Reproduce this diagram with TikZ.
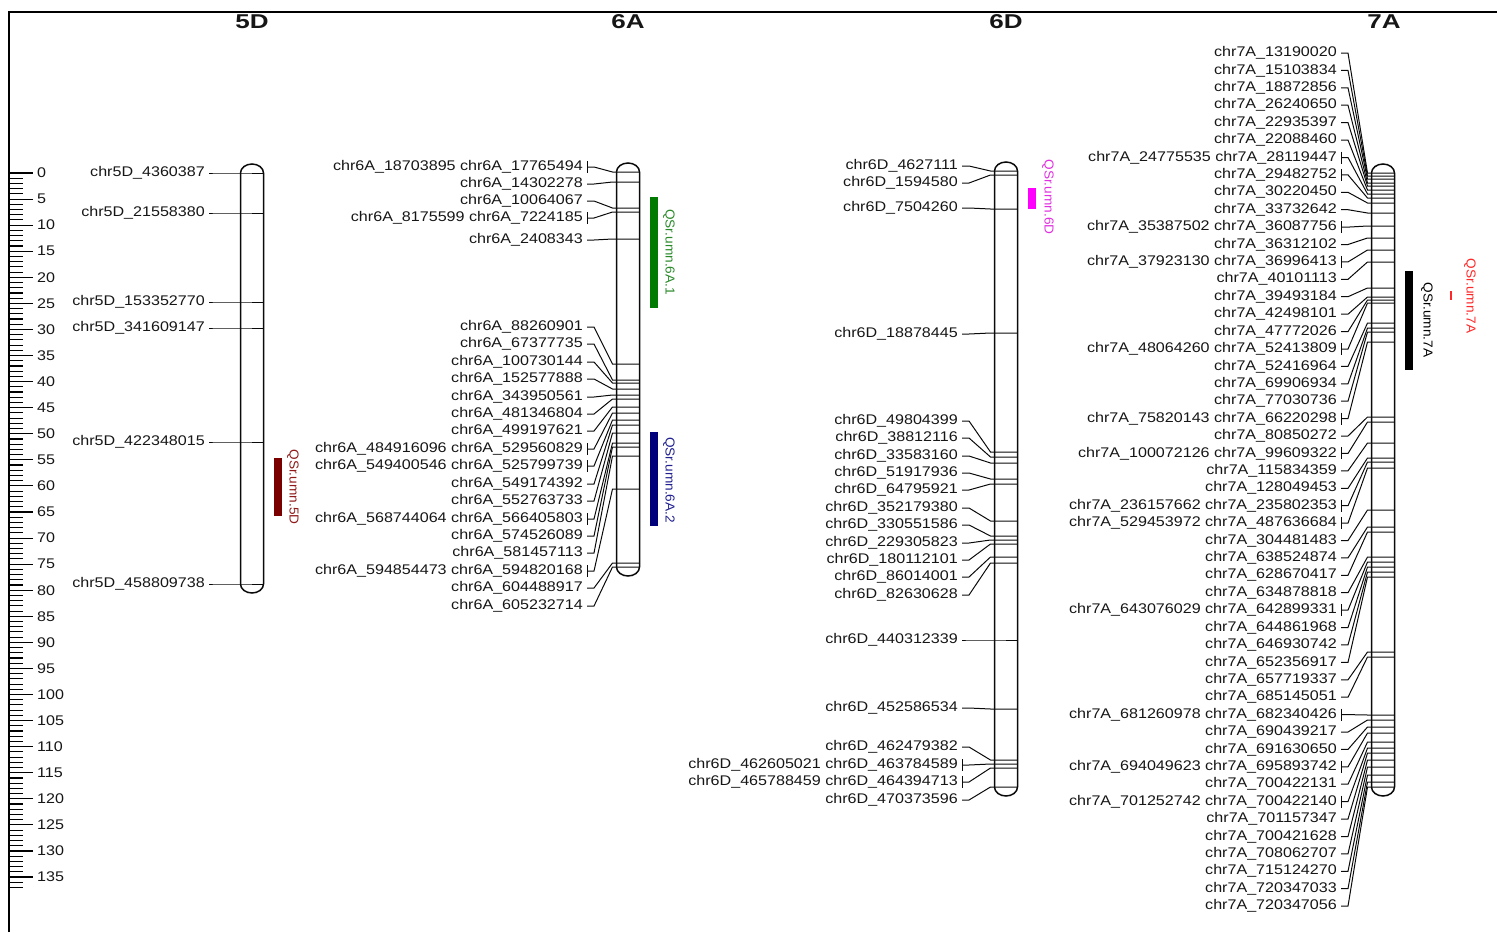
\documentclass[tikz,border=0pt]{standalone}
\usepackage{fontspec}
\setmainfont[FakeStretch=1.15]{Liberation Sans}
\newfontfamily\titlefont[FakeStretch=1.3]{Liberation Sans}
\newfontfamily\qtlfont[FakeStretch=1.05]{Liberation Sans}
\definecolor{txtc}{HTML}{161616}
\definecolor{linec}{HTML}{0A0A0A}
\definecolor{qred}{HTML}{7A0000}
\definecolor{qredt}{HTML}{8E1A1A}
\definecolor{qgreen}{HTML}{007A00}
\definecolor{qgreent}{HTML}{2A8A2A}
\definecolor{qnavy}{HTML}{00007A}
\definecolor{qnavyt}{HTML}{202090}
\definecolor{qmag}{HTML}{FF00FF}
\definecolor{qmagt}{HTML}{E030E0}
\definecolor{qbright}{HTML}{FF2828}
\newcommand\chrbody[3]{\draw[chrom] (#1-11.5,#2) -- (#1-11.5,#3) arc[start angle=180,end angle=360,x radius=11.5pt,y radius=9pt] -- (#1+11.5,#2) arc[start angle=0,end angle=180,x radius=11.5pt,y radius=9pt] -- cycle;}
\newcommand\chrmarks[4]{%
  \foreach \ly/\my/\txt/\b [count=\i] in {#4} {
    \node[lbl] (#1L\i) at (#2,\ly) {\txt};
    \coordinate (#1M\i) at (#3,\my);
    \draw[conn] ([xshift=4pt]#1L\i.east) -- ++(7,0) -- ([xshift=-4pt]#1M\i) -- (#1M\i) -- ++(23,0);
    \ifnum\b=1 \draw[conn] ([xshift=4pt]#1L\i.east) ++(0,-6) -- ++(0,12);\fi
  }}
\begin{document}
\begin{tikzpicture}[x=1pt,y=-1pt,
  lbl/.style={font=\fontsize{14}{16}\selectfont, inner sep=0pt, anchor=east, text=txtc},
  rlbl/.style={font=\fontsize{14}{16}\selectfont, inner sep=0pt, anchor=west, text=txtc},
  ttl/.style={font=\titlefont\bfseries\fontsize{20}{22}\selectfont, inner sep=0pt, text=txtc},
  qlbl/.style={font=\qtlfont\fontsize{13}{15}\selectfont, inner sep=0pt, rotate=-90},
  conn/.style={line width=1pt, draw=linec},
  chrom/.style={line width=1.5pt, draw=linec},
  frame/.style={line width=2.4pt, draw=black},
  tick/.style={line width=1.1pt, draw=black}]
\useasboundingbox (0,0) rectangle (1497,932);
% frame
\draw[frame] (9,932) -- (9,12) -- (1497,12);
% ruler
\foreach \k in {0,...,137} {\draw[tick] (10,{173+5.215*\k}) -- (23,{173+5.215*\k});}
\foreach \k in {0,5,...,135} {
  \draw[tick] (10,{173+5.215*\k}) -- (33,{173+5.215*\k});
  \node[rlbl] (r\k) at (37,{173+5.215*\k}) {\k};
}
% titles
\node[ttl] (t5D) at (252,22) {5D};
\node[ttl] (t6A) at (628,22) {6A};
\node[ttl] (t6D) at (1006,22) {6D};
\node[ttl] (t7A) at (1384,22) {7A};
% chromosome bodies
\chrbody{252}{173}{584}
\chrbody{628}{172}{567}
\chrbody{1006}{171}{787}
\chrbody{1383}{173}{787}
% 5D
\chrmarks{a}{205}{240.5}{173/173/chr5D\_4360387/0, 213/213/chr5D\_21558380/0, 302/302/chr5D\_153352770/0, 328/328/chr5D\_341609147/0, 442/442/chr5D\_422348015/0, 584/584/chr5D\_458809738/0}
% 6A
\chrmarks{b}{583}{616.5}{167/172/{chr6A\_18703895 chr6A\_17765494}/1,
184/182/chr6A\_14302278/0,
201/208/chr6A\_10064067/0,
218/212/{chr6A\_8175599 chr6A\_7224185}/1,
240/239/chr6A\_2408343/0,
327/364/chr6A\_88260901/0,
344/380/chr6A\_67377735/0,
362/383/chr6A\_100730144/0,
379/389/chr6A\_152577888/0,
397/395/chr6A\_343950561/0,
414/399/chr6A\_481346804/0,
431/407/chr6A\_499197621/0,
449/413/{chr6A\_484916096 chr6A\_529560829}/1,
466/420/{chr6A\_549400546 chr6A\_525799739}/1,
484/425/chr6A\_549174392/0,
501/433/chr6A\_552763733/0,
519/443/{chr6A\_568744064 chr6A\_566405803}/1,
536/447/chr6A\_574526089/0,
553/456/chr6A\_581457113/0,
571/489/{chr6A\_594854473 chr6A\_594820168}/1,
588/563/chr6A\_604488917/0,
606/567/chr6A\_605232714/0}
% 6D
\chrmarks{c}{958}{994.5}{166/171/chr6D\_4627111/0,
183/175/chr6D\_1594580/0,
208/209/chr6D\_7504260/0,
334/333/chr6D\_18878445/0,
421/452/chr6D\_49804399/0,
438/457/chr6D\_38812116/0,
456/463/chr6D\_33583160/0,
473/479/chr6D\_51917936/0,
490/484/chr6D\_64795921/0,
508/521/chr6D\_352179380/0,
525/536/chr6D\_330551586/0,
543/540/chr6D\_229305823/0,
560/544/chr6D\_180112101/0,
577/557/chr6D\_86014001/0,
595/563/chr6D\_82630628/0,
640/640/chr6D\_440312339/0,
708/709/chr6D\_452586534/0,
747/760/chr6D\_462479382/0,
765/764/{chr6D\_462605021 chr6D\_463784589}/1,
782/768/{chr6D\_465788459 chr6D\_464394713}/1,
800/787/chr6D\_470373596/0}
% 7A
\chrmarks{d}{1337}{1371.5}{53.0/173/chr7A\_13190020/0,
70.4/176/chr7A\_15103834/0,
87.8/179/chr7A\_18872856/0,
105.2/183/chr7A\_26240650/0,
122.6/186/chr7A\_22935397/0,
140.1/190/chr7A\_22088460/0,
157.5/194/{chr7A\_24775535 chr7A\_28119447}/1,
174.9/198/chr7A\_29482752/1,
192.3/203/chr7A\_30220450/0,
209.7/213/chr7A\_33732642/0,
227.1/226/{chr7A\_35387502 chr7A\_36087756}/1,
244.5/238/chr7A\_36312102/0,
261.9/250/{chr7A\_37923130 chr7A\_36996413}/1,
279.3/262/chr7A\_40101113/0,
296.7/288/chr7A\_39493184/0,
314.2/297/chr7A\_42498101/0,
331.6/300/chr7A\_47772026/0,
349.0/303/{chr7A\_48064260 chr7A\_52413809}/1,
366.4/323/chr7A\_52416964/0,
383.8/328/chr7A\_69906934/0,
401.2/332/chr7A\_77030736/0,
418.6/342/{chr7A\_75820143 chr7A\_66220298}/1,
436.0/417/chr7A\_80850272/0,
453.4/422/{chr7A\_100072126 chr7A\_99609322}/1,
470.8/443/chr7A\_115834359/0,
488.3/458/chr7A\_128049453/0,
505.7/462/{chr7A\_236157662 chr7A\_235802353}/1,
523.1/468/{chr7A\_529453972 chr7A\_487636684}/1,
540.5/510/chr7A\_304481483/0,
557.9/527/chr7A\_638524874/0,
575.3/532/chr7A\_628670417/0,
592.7/557/chr7A\_634878818/0,
610.1/562/{chr7A\_643076029 chr7A\_642899331}/1,
627.5/567/chr7A\_644861968/0,
644.9/572/chr7A\_646930742/0,
662.4/577/chr7A\_652356917/0,
679.8/652/chr7A\_657719337/0,
697.2/657/chr7A\_685145051/0,
714.6/715/{chr7A\_681260978 chr7A\_682340426}/1,
732.0/720/chr7A\_690439217/0,
749.4/727/chr7A\_691630650/0,
766.8/733/{chr7A\_694049623 chr7A\_695893742}/1,
784.2/742/chr7A\_700422131/0,
801.6/748/{chr7A\_701252742 chr7A\_700422140}/1,
819.0/753/chr7A\_701157347/0,
836.5/760/chr7A\_700421628/0,
853.9/767/chr7A\_708062707/0,
871.3/775/chr7A\_715124270/0,
888.7/782/chr7A\_720347033/0,
906.1/787/chr7A\_720347056/0}
% QTL bars and labels
\fill[qred] (274,458) rectangle (282,516);
\node[qlbl, text=qredt] (q5D) at (293,487) {QSr.umn.5D};
\fill[qgreen] (650,197) rectangle (658,308);
\node[qlbl, text=qgreent] (q6A1) at (669,252) {QSr.umn.6A.1};
\fill[qnavy] (650,432) rectangle (658,526);
\node[qlbl, text=qnavyt] (q6A2) at (669,480) {QSr.umn.6A.2};
\fill[qmag] (1028,188) rectangle (1036,209);
\node[qlbl, text=qmagt] (q6D) at (1048,197) {QSr.umn.6D};
\fill[black] (1405,271) rectangle (1413,370);
\node[qlbl, text=black] (q7A) at (1427,320) {QSr.umn.7A};
\coordinate (rt1) at (1451,291);
\coordinate (rt2) at (1451,300);
\draw[qbright, line width=1.1pt] (rt1) -- (rt2);
\node[qlbl, text=qbright] (q7Ar) at (1470,296) {QSr.umn.7A};
\end{tikzpicture}
\end{document}
